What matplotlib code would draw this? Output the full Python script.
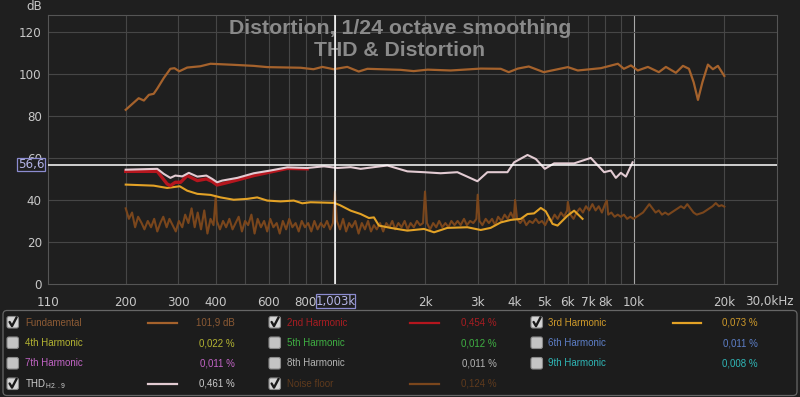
import matplotlib
matplotlib.use("Agg")
from matplotlib import pyplot as plt
from matplotlib.patches import FancyBboxPatch
from matplotlib.ticker import NullLocator, NullFormatter

# ---- measured curves (Hz, dB) ----
fund_freq = [200, 221, 230, 239, 248, 255, 268, 282, 291, 302, 321, 355, 384, 458, 535, 595,
             768, 848, 908, 990, 1100, 1201, 1284, 1422, 1659, 1833, 2042, 2437, 3070, 3582,
             3809, 4083, 4444, 4988, 6002, 6479, 7739, 8819, 9235, 9750, 10280, 11110, 12090,
             12760, 13780, 14550, 15240, 15800, 16330, 16900, 17630, 18320, 19040, 20000]
fund_db = [82.9, 88.4, 87.3, 90.0, 90.5, 93.0, 98.0, 102.4, 102.7, 101.2, 103.0, 103.6, 104.8,
           104.3, 103.8, 103.2, 102.9, 102.2, 103.3, 102.2, 103.3, 101.1, 102.4, 102.2, 101.9,
           101.3, 102.0, 101.6, 102.5, 102.4, 100.8, 102.5, 103.5, 100.8, 103.2, 101.6, 102.7,
           104.8, 102.4, 104.0, 101.6, 103.3, 100.8, 103.3, 100.5, 103.8, 102.4, 96.0, 87.6,
           96.0, 104.4, 102.2, 103.8, 99.0]

h2_freq = [200, 255, 275, 282, 293, 305, 321, 347, 372, 389, 404, 427, 472, 536, 609, 693, 808]
h2_db = [53.6, 53.6, 47.6, 46.8, 48.4, 48.4, 51.6, 49.2, 50.0, 48.8, 47.1, 47.9, 49.5, 51.6,
         53.3, 55.0, 54.8]

h3_freq = [200, 248, 275, 303, 321, 347, 384, 415, 459, 509, 550, 594, 658, 729, 778, 829,
           994, 1040, 1129, 1219, 1299, 1350, 1403, 1535, 1746, 1985, 2144, 2376, 2772, 3070,
           3313, 3582, 3870, 4178, 4400, 4628, 4874, 5064, 5335, 5545, 5985, 6300, 6720]
h3_db = [47.3, 46.8, 45.7, 46.5, 44.4, 42.9, 42.4, 41.2, 40.1, 40.5, 41.2, 39.7, 39.3, 39.7,
         38.4, 38.9, 38.6, 37.5, 34.9, 33.3, 31.4, 31.7, 27.8, 26.7, 25.4, 26.2, 24.6, 26.7,
         27.0, 25.7, 26.7, 29.3, 30.5, 31.0, 33.3, 33.6, 36.2, 34.6, 28.6, 27.8, 32.5, 34.9, 31.0]

thd_freq = [200, 255, 268, 282, 293, 309, 325, 347, 372, 389, 404, 420, 472, 536, 609, 693,
            808, 919, 1019, 1129, 1219, 1350, 1497, 1746, 1985, 2256, 2566, 2993, 3233, 3491,
            3771, 3969, 4400, 4690, 5027, 5400, 6300, 7161, 7935, 8355, 8683, 9024, 9380, 9878]
thd_db = [54.4, 54.8, 52.4, 50.5, 51.6, 51.2, 52.9, 51.1, 51.6, 50.0, 48.4, 49.2, 50.5, 52.7,
          54.0, 55.5, 55.2, 56.0, 55.2, 55.6, 54.8, 55.6, 56.4, 53.6, 53.2, 52.7, 53.2, 48.9,
          53.2, 53.2, 53.2, 57.9, 61.4, 59.5, 54.8, 57.4, 57.4, 60.0, 53.2, 54.0, 50.5, 52.9,
          51.1, 57.9]

noise_freq = [200, 205, 210, 215, 220, 226, 231, 237, 243, 249, 255, 261, 267, 274, 280, 287,
              294, 301, 309, 316, 324, 332, 340, 348, 357, 366, 375, 384, 393, 400, 403, 413,
              423, 433, 444, 455, 466, 477, 489, 501, 513, 526, 539, 552, 566, 580, 594, 608,
              623, 639, 654, 670, 687, 704, 721, 739, 757, 775, 794, 814, 834, 854, 875, 897,
              919, 941, 964, 985, 1000, 1015, 1040, 1065, 1090, 1115, 1140, 1170, 1200, 1230,
              1260, 1290, 1320, 1350, 1380, 1415, 1450, 1485, 1520, 1555, 1590, 1630, 1670,
              1710, 1750, 1790, 1835, 1880, 1925, 1970, 2000, 2030, 2080, 2130, 2180, 2230,
              2285, 2340, 2395, 2450, 2510, 2570, 2630, 2700, 2760, 2830, 2900, 2970, 3000,
              3040, 3110, 3190, 3270, 3350, 3430, 3510, 3600, 3690, 3780, 3870, 3960, 4000,
              4060, 4160, 4260, 4360, 4470, 4580, 4690, 4800, 4920, 5040, 5160, 5290, 5420,
              5550, 5690, 5830, 5970, 6000, 6120, 6270, 6420, 6580, 6740, 6900, 7070, 7250,
              7430, 7610, 7800, 7990, 8100, 8190, 8390, 8600, 8810, 9020, 9240, 9470, 9700,
              9940, 10190, 10440, 10700, 10960, 11230, 11510, 11790, 12080, 12380, 12690,
              13000, 13320, 13650, 13990, 14330, 14680, 15040, 15410, 15790, 16180, 16580,
              16990, 17410, 17840, 18280, 18730, 19190, 19600, 20000]
noise_db = [36, 31, 34, 27, 32, 29, 26, 30, 27, 31, 25, 29, 32, 27, 31, 28,
            25, 30, 27, 33, 29, 36, 27, 34, 26, 35, 24, 31, 28, 42, 30, 26,
            30, 27, 31, 26, 29, 32, 25, 30, 28, 33, 24, 31, 27, 30, 25, 31,
            27, 29, 24, 30, 26, 31, 27, 29, 25, 30, 27, 29, 25, 30, 26, 29,
            27, 30, 26, 29, 44, 30, 26, 31, 25, 29, 27, 30, 24, 29,
            26, 30, 25, 28, 26, 29, 25, 29, 27, 30, 26, 29, 27,
            30, 26, 29, 27, 30, 28, 29, 44, 29, 26, 29, 27, 30,
            27, 29, 27, 30, 28, 30, 28, 31, 28, 30, 29, 31, 42.5,
            30, 28, 31, 29, 31, 28, 32, 30, 33, 31, 34, 31, 40,
            31, 29, 31, 28, 30, 29, 31, 29, 30, 28, 31, 30, 33,
            31, 34, 32, 35, 39, 33, 31, 34, 36, 34, 37, 35, 38,
            35, 37, 34, 38, 39.7, 33, 34, 32, 33, 32, 33, 31, 32,
            31, 32, 33, 34, 36, 38, 36, 34, 35, 33, 34,
            33, 34, 35, 36, 37, 36, 38, 36, 34, 33, 33.5,
            34, 35, 36, 37, 38.5, 37, 37.5, 36.8]

grid_freqs = [200, 300, 400, 500, 600, 700, 800, 900, 2000, 3000, 4000, 5000, 6000, 7000,
              8000, 9000, 20000]
decade_freqs = [1000, 10000]
tick_freqs = [110, 200, 300, 400, 600, 800, 2000, 3000, 4000, 5000, 6000, 7000, 8000, 10000, 20000]
tick_labels = ["110", "200", "300", "400", "600", "800", "2k", "3k", "4k", "5k", "6k", "7k",
               "8k", "10k", "20k"]
db_ticks = [0, 20, 40, 60, 80, 100, 120]

cursor_freq = 1003
cursor_db = 56.6

# legend rows: name, value, checked
legend_names = [["Fundamental", "2nd Harmonic", "3rd Harmonic"],
                ["4th Harmonic", "5th Harmonic", "6th Harmonic"],
                ["7th Harmonic", "8th Harmonic", "9th Harmonic"],
                [r"THD$_{\mathregular{H2..9}}$", "Noise floor", None]]
legend_values = [["101,9 dB", "0,454 %", "0,073 %"],
                 ["0,022 %", "0,012 %", "0,011 %"],
                 ["0,011 %", "0,011 %", "0,008 %"],
                 ["0,461 %", "0,124 %", None]]
legend_checked = [[True, True, True], [False, False, False], [False, False, False],
                  [True, True, False]]

# ---- style ----
BG = "#1f1f1f"
GRID = "#464646"
C_FUND = "#a5622c"
C_H2 = "#b5161e"
C_H3 = "#e3a226"
C_THD = "#e2cbd2"
C_NOISE = "#7a461c"
text_colors = [["#8c5a34", "#a81c22", "#cf9a2a"],
               ["#b4b432", "#3fb043", "#5d7fc8"],
               ["#c264c6", "#b4b4b4", "#2fb6b6"],
               ["#cccccc", "#5e3a1c", None]]
line_colors = [[C_FUND, C_H2, C_H3], [None, None, None], [None, None, None],
               [C_THD, C_NOISE, None]]

W, H = 800, 397
fig = plt.figure(figsize=(W / 100, H / 100), dpi=100, facecolor=BG)
ax = fig.add_axes([48 / W, 113 / H, 729 / W, 269 / H])
ax.set_facecolor(BG)
ax.set_xscale("log")
ax.set_xlim(110, 30000)
ax.set_ylim(0, 128)

for f in grid_freqs:
    ax.axvline(f, color=GRID, lw=0.8, zorder=0)
for f in decade_freqs:
    ax.axvline(f, color="#a8a8a8", lw=0.8, zorder=0)
for d in db_ticks[1:]:
    ax.axhline(d, color=GRID, lw=0.8, zorder=0)

ax.set_xticks(tick_freqs)
ax.set_xticklabels(tick_labels)
ax.xaxis.set_minor_locator(NullLocator())
ax.xaxis.set_minor_formatter(NullFormatter())
ax.set_yticks(db_ticks)
ax.tick_params(axis="both", length=0, colors="#c8c8c8", labelsize=8.6)
ax.tick_params(axis="x", pad=9)
ax.tick_params(axis="y", pad=4.5)
for s in ax.spines.values():
    s.set_color("#555555")
    s.set_linewidth(0.8)

ax.plot(noise_freq, noise_db, color=C_NOISE, lw=1.5, zorder=2)
ax.plot(fund_freq, fund_db, color=C_FUND, lw=1.6, zorder=3)
ax.plot(h3_freq, h3_db, color=C_H3, lw=1.5, zorder=3)
ax.plot(h2_freq, h2_db, color=C_H2, lw=2.4, zorder=3)
ax.plot(thd_freq, thd_db, color=C_THD, lw=1.5, zorder=4)

title_x = (400 - 48) / 729
ax.text(title_x, 1 - 19 / 269, "Distortion, 1/24 octave smoothing", transform=ax.transAxes,
        ha="center", va="baseline", fontsize=15.3, fontweight="bold",
        family="Liberation Sans", color="#8a8a8a", zorder=4.5)
ax.text(title_x, 1 - 41 / 269, "THD & Distortion", transform=ax.transAxes,
        ha="center", va="baseline", fontsize=15.3, fontweight="bold",
        family="Liberation Sans", color="#8a8a8a", zorder=4.5)

ax.axvline(cursor_freq, color="white", lw=1.1, zorder=5)
ax.axhline(cursor_db, color="white", lw=1.1, zorder=5)

# ---- overlay in pixel space ----
ov = fig.add_axes([0, 0, 1, 1])
ov.set_xlim(0, W)
ov.set_ylim(H, 0)
ov.axis("off")

ov.text(42, 6, "dB", ha="right", va="center", fontsize=8.6, color="#c8c8c8")
ov.text(794, 301, "30,0kHz", ha="right", va="center", fontsize=8.6, color="#c8c8c8")

CUR_EDGE = "#8c8cd0"
CUR_TXT = "#b4b4e6"
ov.add_patch(FancyBboxPatch((17, 157.5), 28, 13.5, boxstyle="square,pad=0",
                            fc=BG, ec=CUR_EDGE, lw=0.9, zorder=6))
ov.text(31, 164.5, "56,6", ha="center", va="center", fontsize=8.6, color=CUR_TXT, zorder=7)
ov.add_patch(FancyBboxPatch((316, 294), 39, 14, boxstyle="square,pad=0",
                            fc=BG, ec=CUR_EDGE, lw=0.9, zorder=6))
ov.text(335.5, 301.2, "1,003k", ha="center", va="center", fontsize=8.4, color=CUR_TXT, zorder=7)

# legend panel
ov.add_patch(FancyBboxPatch((3, 310.5), 794, 85, boxstyle="round,pad=0,rounding_size=4",
                            fc="#1c1c1c", ec="#666666", lw=0.9, zorder=1))
row_y = [322.5, 343, 363.5, 384]
box_x = [7, 269, 531]
name_x = [25, 287, 548]
line_x = [(148, 177), (410, 439), (673, 701)]
value_x = [235, 497, 758]

for r, y in enumerate(row_y):
    for c in range(3):
        name = legend_names[r][c]
        if name is None:
            continue
        checked = legend_checked[r][c]
        ov.add_patch(FancyBboxPatch((box_x[c], y - 6), 11.5, 11.5,
                                    boxstyle="round,pad=0,rounding_size=2",
                                    fc="#d6d6d6" if checked else "#c4c4c4",
                                    ec="#8a8a8a", lw=0.8, zorder=2))
        if checked:
            bx = box_x[c]
            ov.plot([bx + 2.6, bx + 5.0, bx + 9.6], [y - 0.5, y + 3.6, y - 5.2],
                    color="#1a1a1a", lw=1.7, solid_capstyle="round", zorder=3)
        ov.text(name_x[c], y, name, ha="left", va="center", fontsize=7,
                family="Liberation Sans", color=text_colors[r][c], zorder=3)
        if line_colors[r][c] is not None:
            ov.plot(line_x[c], [y, y], color=line_colors[r][c], lw=1.6, zorder=3)
        ov.text(value_x[c], y, legend_values[r][c], ha="right", va="center", fontsize=7,
                family="Liberation Sans", color=text_colors[r][c], zorder=3)

fig.savefig("out.png", dpi=100, facecolor=BG)
